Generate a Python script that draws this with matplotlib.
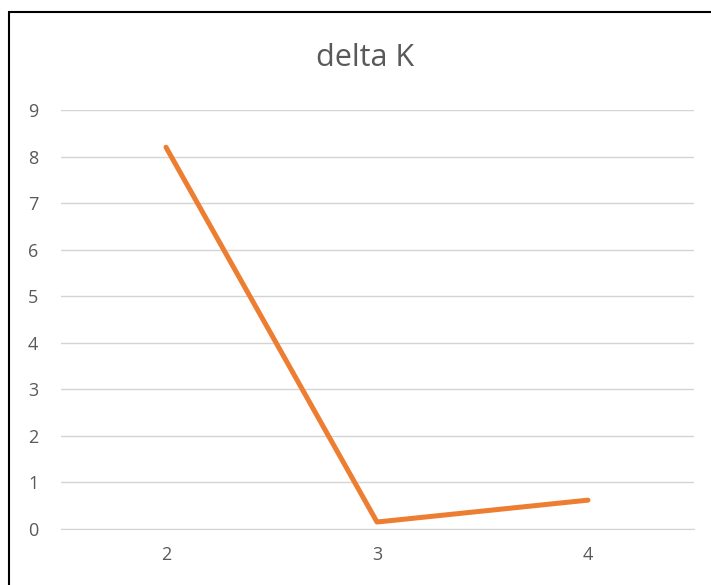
import matplotlib
matplotlib.use("Agg")
import matplotlib.pyplot as plt
from matplotlib.patches import Rectangle

# -----------------------------
# DATA
# -----------------------------
categories = ["2", "3", "4"]
delta_k = [8.2, 0.15, 0.62]
y_ticks = list(range(0, 10))

plt.rcParams["font.family"] = ["Open Sans", "DejaVu Sans"]

W, H = 711, 585
fig = plt.figure(figsize=(W / 100, H / 100), dpi=100)

# plot area in pixel coordinates
left, right, top, bottom = 60.5, 693.5, 110, 529
ax = fig.add_axes([left / W, 1 - bottom / H, (right - left) / W, (bottom - top) / H])

x = list(range(len(categories)))
ax.plot(x, delta_k, color="#ED7D31", linewidth=3.6, solid_capstyle="round", solid_joinstyle="round")

ax.set_xlim(-0.5, len(categories) - 0.5)
ax.set_ylim(0, 9)
ax.set_yticks(y_ticks)
ax.set_xticks(x)
ax.set_xticklabels(categories)
ax.grid(axis="y", color="#D4D4D4", linewidth=1)
ax.set_axisbelow(True)
for s in ["left", "right", "top"]:
    ax.spines[s].set_visible(False)
ax.spines["bottom"].set_color("#D4D4D4")
ax.tick_params(axis="both", length=0, labelsize=13, colors="#595959")
ax.tick_params(axis="y", pad=16)
ax.tick_params(axis="x", pad=12)

fig.text(365 / W, 1 - 58 / H, "delta K", ha="center", va="center",
         fontsize=22, color="#595959")

# chart frame
fig.patches.append(Rectangle((9, -20), 720, H - 12 + 20, transform=None, fill=False,
                             edgecolor="#000000", linewidth=1.5))

fig.savefig("out.png", dpi=100)
